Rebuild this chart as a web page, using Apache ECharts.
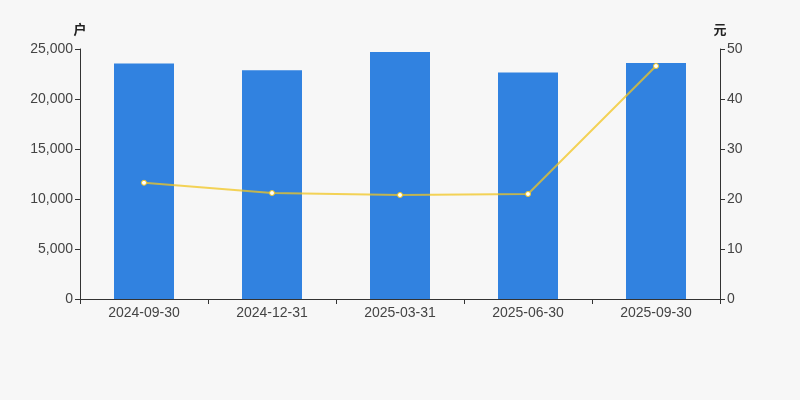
<!DOCTYPE html>
<html>
<head>
<meta charset="utf-8">
<script src="https://cdn.jsdelivr.net/npm/echarts@6/dist/echarts.min.js"></script>
<style>
html,body{margin:0;padding:0;background:#f7f7f7;}
#c{width:800px;height:400px;}
</style>
</head>
<body>
<div id="c"></div>
<script>
var categories = ['2024-09-30','2024-12-31','2025-03-31','2025-06-30','2025-09-30'];
var holders = [23550, 22880, 24700, 22650, 23600];
var avgValue = [23.25, 21.2, 20.8, 21.0, 46.6];
var leftTicks = {min:0, max:25000, interval:5000};
var rightTicks = {min:0, max:50, interval:10};

var chart = echarts.init(document.getElementById('c'));
var axisColor = '#333';
var labelColor = '#444';
var fontFam = 'Liberation Sans, Arial, sans-serif';
chart.setOption({
  backgroundColor:'#f7f7f7',
  animation:false,
  grid:{left:80, right:80, top:49, bottom:101},
  xAxis:{
    type:'category',
    data:categories,
    axisLine:{lineStyle:{color:axisColor}},
    axisTick:{show:true, lineStyle:{color:axisColor}},
    axisLabel:{color:labelColor, fontSize:14, margin:7, fontFamily:fontFam}
  },
  yAxis:[{
    type:'value', name:'户', min:leftTicks.min, max:leftTicks.max, interval:leftTicks.interval,
    nameTextStyle:{color:'#222', fontSize:13, fontWeight:'bold', align:'center', fontFamily:'Noto Sans CJK SC'},
    nameGap:13,
    axisLine:{show:true, lineStyle:{color:axisColor}},
    axisTick:{show:true, lineStyle:{color:axisColor}},
    splitLine:{show:false},
    axisLabel:{color:labelColor, fontSize:14, margin:7, fontFamily:fontFam}
  },{
    type:'value', name:'元', min:rightTicks.min, max:rightTicks.max, interval:rightTicks.interval,
    nameTextStyle:{color:'#222', fontSize:13, fontWeight:'bold', align:'center', fontFamily:'Noto Sans CJK SC'},
    nameGap:13,
    axisLine:{show:true, lineStyle:{color:axisColor}},
    axisTick:{show:true, lineStyle:{color:axisColor}},
    splitLine:{show:false},
    axisLabel:{color:labelColor, fontSize:14, margin:7, fontFamily:fontFam}
  }],
  series:[{
    type:'bar', data:holders, yAxisIndex:0, barWidth:60,
    itemStyle:{color:'#3182e0'}
  },{
    type:'line', data:avgValue, yAxisIndex:1,
    symbol:'circle', symbolSize:5,
    itemStyle:{color:'#ffffff', borderColor:'#f2c520', borderWidth:1},
    lineStyle:{color:'rgba(242,197,32,0.75)', width:2}
  }]
});
</script>
</body>
</html>
